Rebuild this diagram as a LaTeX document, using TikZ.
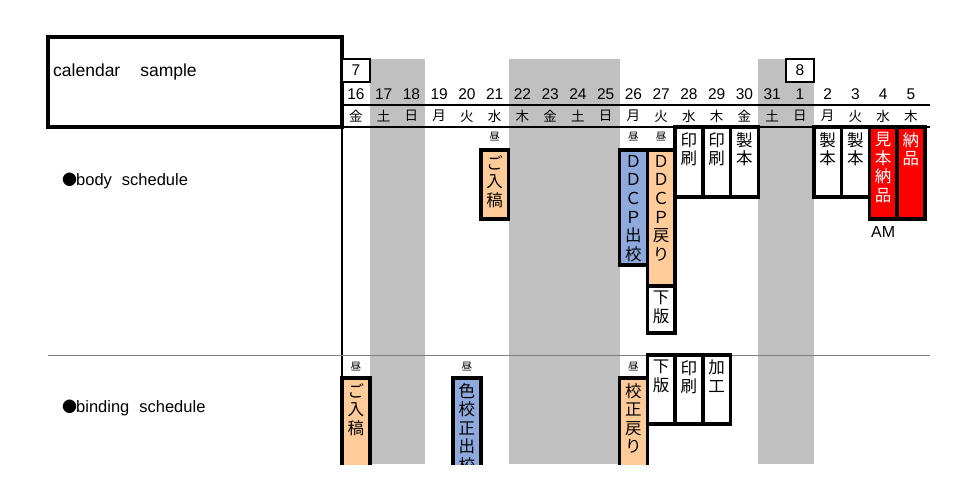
\documentclass[tikz,border=0pt]{standalone}
\usepackage{fontspec}
\setmainfont{Noto Sans CJK JP}
\newfontfamily\lat{Liberation Sans}
\newfontfamily\cjkfont{Noto Sans CJK JP}
\definecolor{wkend}{HTML}{C0C0C0}
\definecolor{peach}{HTML}{FFCC99}
\definecolor{bluebox}{HTML}{8EA9DB}
\definecolor{redbox}{HTML}{FF0000}
\definecolor{sepgray}{HTML}{808080}
\begin{document}
\begin{tikzpicture}[x=1pt,y=-1pt,
  sbox/.style={draw, line width=3.5pt, inner sep=0pt, outer sep=0pt, anchor=north west, minimum width=27.75pt},
  vt/.style={align=center, inner sep=0pt, anchor=north, font=\fontsize{16.5}{18.6}\selectfont},
  datel/.style={inner sep=0pt, font=\lat\fontsize{15.5}{16}\selectfont},
  dayl/.style={inner sep=0pt, font=\fontsize{13.5}{15}\selectfont},
  noon/.style={inner sep=0pt, font=\fontsize{10.5}{11}\selectfont},
  lbl/.style={inner sep=0pt, anchor=west, font=\lat\fontsize{16.5}{18}\selectfont},
  monthbox/.style={draw, fill=white, line width=1.8pt, inner sep=0pt, outer sep=0pt, anchor=north west, minimum width=27.75pt, minimum height=23pt, font=\lat\fontsize{15.5}{16}\selectfont}
]
\def\xo{342}
\def\cw{27.75}
\newcommand\blackdot{{\cjkfont\fontsize{15}{16}\selectfont ●}}
\useasboundingbox (0,0) rectangle (960,483);
% weekend shading
\fill[wkend] ({\xo+1*\cw},59) rectangle ({\xo+3*\cw},464);
\fill[wkend] ({\xo+6*\cw},59) rectangle ({\xo+10*\cw},464);
\fill[wkend] ({\xo+15*\cw},59) rectangle ({\xo+17*\cw},464);
% title box
\node[draw, line width=3.5pt, inner sep=0pt, outer sep=0pt, anchor=north west, minimum width=294pt, minimum height=90pt] (title) at (48,37) {};
\node[lbl, font=\lat\fontsize{17.5}{18}\selectfont] (titletext) at (53,72) {calendar\hspace{20pt}sample};
% month boxes
\node[monthbox] (m7) at ({\xo},59) {7};
\node[monthbox] (m8) at ({\xo+16*\cw},59) {8};
% header lines
\coordinate (hl0) at (342,105);
\coordinate (hl1) at (930,105);
\coordinate (hl2) at (930,127);
\coordinate (vend) at (342,464);
\draw[line width=2pt] (hl0) -- (hl1);
\draw[line width=2.5pt] (title.south east) -- (hl2);
\draw[line width=1.8pt] (title.south east) -- (vend);
% separator
\coordinate (sepl) at (48,355);
\coordinate (sepr) at (930,355);
\draw[sepgray, line width=0.9pt] (sepl) -- (sepr);
% dates
\foreach \d/\w [count=\i from 0] in {16/金,17/土,18/日,19/月,20/火,21/水,22/木,23/金,24/土,25/日,26/月,27/火,28/水,29/木,30/金,31/土,1/日,2/月,3/火,4/水,5/木}{
  \node[datel] (d\i) at ({\xo+(\i+0.5)*\cw},94) {\d};
  \node[dayl] (w\i) at ({\xo+(\i+0.5)*\cw},116) {\w};
}
% row labels
\node[lbl] (body) at (62,181) {\blackdot\hspace{-1pt}body\hspace{10pt}schedule};
\node[lbl] (bind) at (62,408) {\blackdot\hspace{-1pt}binding\hspace{10pt}schedule};
% ---- body schedule ----
\node[noon] (n1) at ({\xo+5.5*\cw},137) {昼};
\node[noon] (n2) at ({\xo+10.5*\cw},137) {昼};
\node[noon] (n3) at ({\xo+11.5*\cw},137) {昼};
\node[sbox, fill=peach, minimum height=69pt] (b1) at ({\xo+5*\cw},150) {};
\node[vt] (b1t) at ([yshift=-5pt]b1.north) {ご\\入\\稿};
\node[sbox, fill=bluebox, minimum height=115pt] (b2) at ({\xo+10*\cw},150) {};
\node[vt] (b2t) at ([yshift=-5pt]b2.north) {Ｄ\\Ｄ\\Ｃ\\Ｐ\\出\\校};
\node[sbox, fill=peach, minimum height=136pt] (b3) at ({\xo+11*\cw},150) {};
\node[vt] (b3t) at ([yshift=-5pt]b3.north) {Ｄ\\Ｄ\\Ｃ\\Ｐ\\戻\\り};
\node[sbox, fill=white, minimum height=47pt] (b4) at ({\xo+11*\cw},286) {};
\node[vt] (b4t) at ([yshift=-5pt]b4.north) {下\\版};
\node[sbox, fill=white, minimum height=70pt] (b5) at ({\xo+12*\cw},127) {};
\node[vt] (b5t) at ([yshift=-5pt]b5.north) {印\\刷};
\node[sbox, fill=white, minimum height=70pt] (b6) at ({\xo+13*\cw},127) {};
\node[vt] (b6t) at ([yshift=-5pt]b6.north) {印\\刷};
\node[sbox, fill=white, minimum height=70pt] (b7) at ({\xo+14*\cw},127) {};
\node[vt] (b7t) at ([yshift=-5pt]b7.north) {製\\本};
\node[sbox, fill=white, minimum height=70pt] (b8) at ({\xo+17*\cw},127) {};
\node[vt] (b8t) at ([yshift=-5pt]b8.north) {製\\本};
\node[sbox, fill=white, minimum height=70pt] (b9) at ({\xo+18*\cw},127) {};
\node[vt] (b9t) at ([yshift=-5pt]b9.north) {製\\本};
\node[sbox, fill=redbox, minimum height=92pt] (b10) at ({\xo+19*\cw},127) {};
\node[vt, text=white] (b10t) at ([yshift=-5pt]b10.north) {見\\本\\納\\品};
\node[sbox, fill=redbox, minimum height=92pt] (b11) at ({\xo+20*\cw},127) {};
\node[vt, text=white] (b11t) at ([yshift=-5pt]b11.north) {納\\品};
\node[lbl, anchor=center, font=\lat\fontsize{16}{17}\selectfont] (am) at ({\xo+19.5*\cw},232) {AM};
% ---- binding schedule ----
\node[noon] (n4) at ({\xo+0.5*\cw},367) {昼};
\node[noon] (n5) at ({\xo+4.5*\cw},367) {昼};
\node[noon] (n6) at ({\xo+10.5*\cw},367) {昼};
\begin{scope}
\clip (0,0) rectangle (960,464);
\node[sbox, fill=peach, minimum height=120pt] (c1) at ({\xo},378) {};
\node[vt] (c1t) at ([yshift=-5pt]c1.north) {ご\\入\\稿};
\node[sbox, fill=bluebox, minimum height=120pt] (c2) at ({\xo+4*\cw},378) {};
\node[vt] (c2t) at ([yshift=-5pt]c2.north) {色\\校\\正\\出\\校};
\node[sbox, fill=peach, minimum height=120pt] (c3) at ({\xo+10*\cw},378) {};
\node[vt] (c3t) at ([yshift=-5pt]c3.north) {校\\正\\戻\\り};
\end{scope}
\node[sbox, fill=white, minimum height=69pt] (c4) at ({\xo+11*\cw},355) {};
\node[vt] (c4t) at ([yshift=-5pt]c4.north) {下\\版};
\node[sbox, fill=white, minimum height=69pt] (c5) at ({\xo+12*\cw},355) {};
\node[vt] (c5t) at ([yshift=-5pt]c5.north) {印\\刷};
\node[sbox, fill=white, minimum height=69pt] (c6) at ({\xo+13*\cw},355) {};
\node[vt] (c6t) at ([yshift=-5pt]c6.north) {加\\工};
\end{tikzpicture}
\end{document}
